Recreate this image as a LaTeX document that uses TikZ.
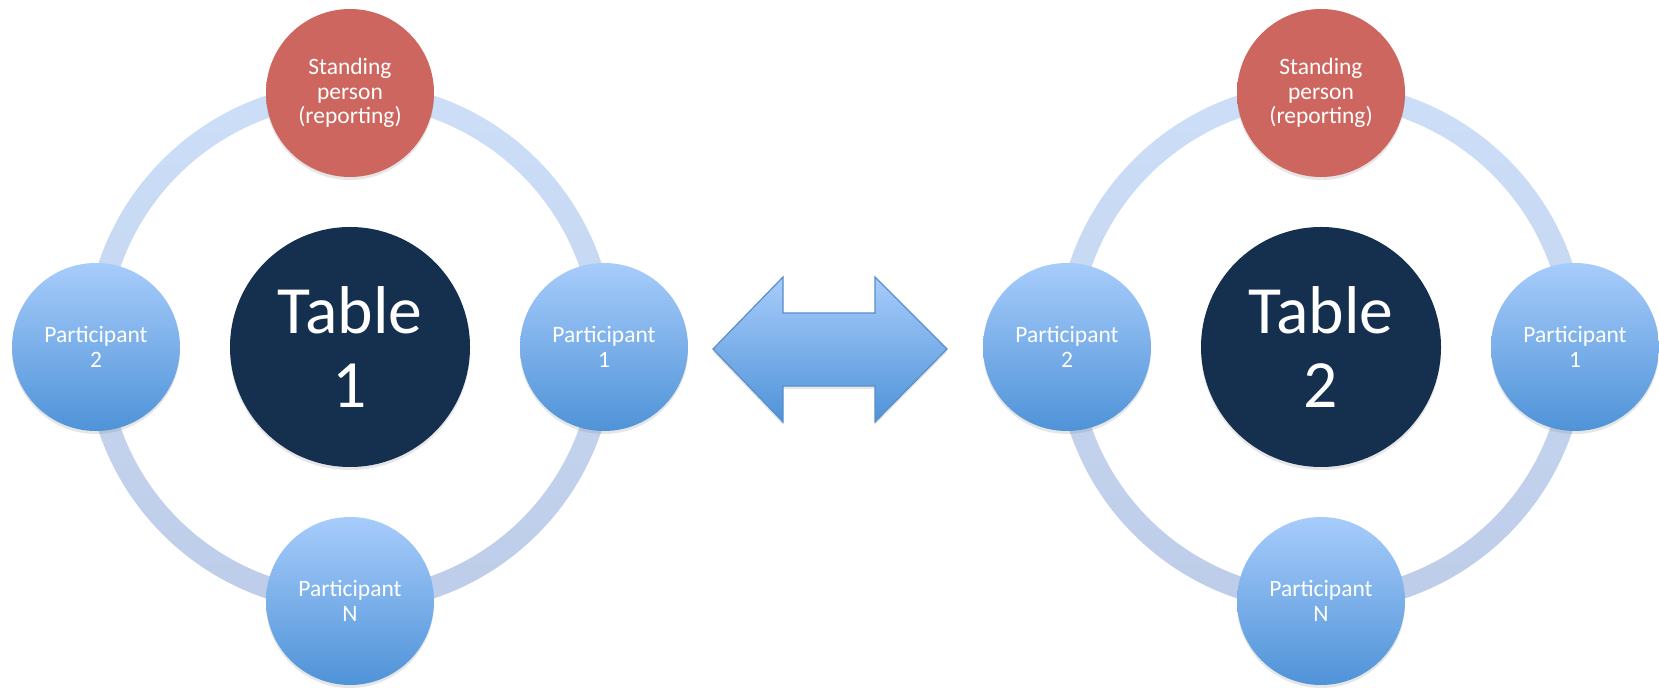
\documentclass[tikz,border=0pt]{standalone}
\usepackage{fontspec}
\setmainfont{Carlito}
\usetikzlibrary{shadows}

\definecolor{ringtop}{HTML}{CDDFF8}
\definecolor{ringbot}{HTML}{BDCCE8}
\definecolor{seattop}{HTML}{A7CCFB}
\definecolor{seatbot}{HTML}{4F93D8}
\definecolor{standred}{HTML}{CD665F}
\definecolor{tablenavy}{HTML}{15304F}
\definecolor{arrowedge}{HTML}{5A8DCB}

\begin{document}
\begin{tikzpicture}[x=0.5pt,y=-0.5pt,
    castshadow/.style={drop shadow={shadow xshift=0pt,shadow yshift=-1.5pt,opacity=0.2}},
    seat/.style={circle,minimum size=84pt,inner sep=0pt,text=white,align=center,
        font=\fontsize{11.75}{12.25}\selectfont,top color=seattop,bottom color=seatbot,castshadow},
    standing/.style={seat,top color=standred,bottom color=standred},
    table/.style={circle,minimum size=120pt,inner sep=0pt,fill=tablenavy,text=white,align=center,
        font=\fontsize{33.8}{37}\selectfont,castshadow},
    ring/.style={even odd rule,top color=ringtop,bottom color=ringbot}]
        \useasboundingbox(0,0)rectangle(1659,688);

        % first table
        \node[table](table1)at(350,347){Table\\1};
        \path[ring](table1)circle[radius=132.5pt]circle[radius=121.5pt];
        \node[standing](stand1)at(350,93){Standing\\person\\(reporting)};
        \node[seat](left1)at(96,347){Participant\\2};
        \node[seat](right1)at(604,347){Participant\\1};
        \node[seat](bottom1)at(350,601){Participant\\N};

        % second table
        \node[table](table2)at(1321,347){Table\\2};
        \path[ring](table2)circle[radius=132.5pt]circle[radius=121.5pt];
        \node[standing](stand2)at(1321,93){Standing\\person\\(reporting)};
        \node[seat](left2)at(1067,347){Participant\\2};
        \node[seat](right2)at(1575,347){Participant\\1};
        \node[seat](bottom2)at(1321,601){Participant\\N};

        % exchange arrow
        \draw[arrowedge,line width=0.6pt,top color=seattop,bottom color=seatbot,castshadow]
            (713,349)--(783,277)--(783,313)--(875,313)--(875,277)--(947,349)
            --(875,422)--(875,386)--(783,386)--(783,422)--cycle;
\end{tikzpicture}
\end{document}
